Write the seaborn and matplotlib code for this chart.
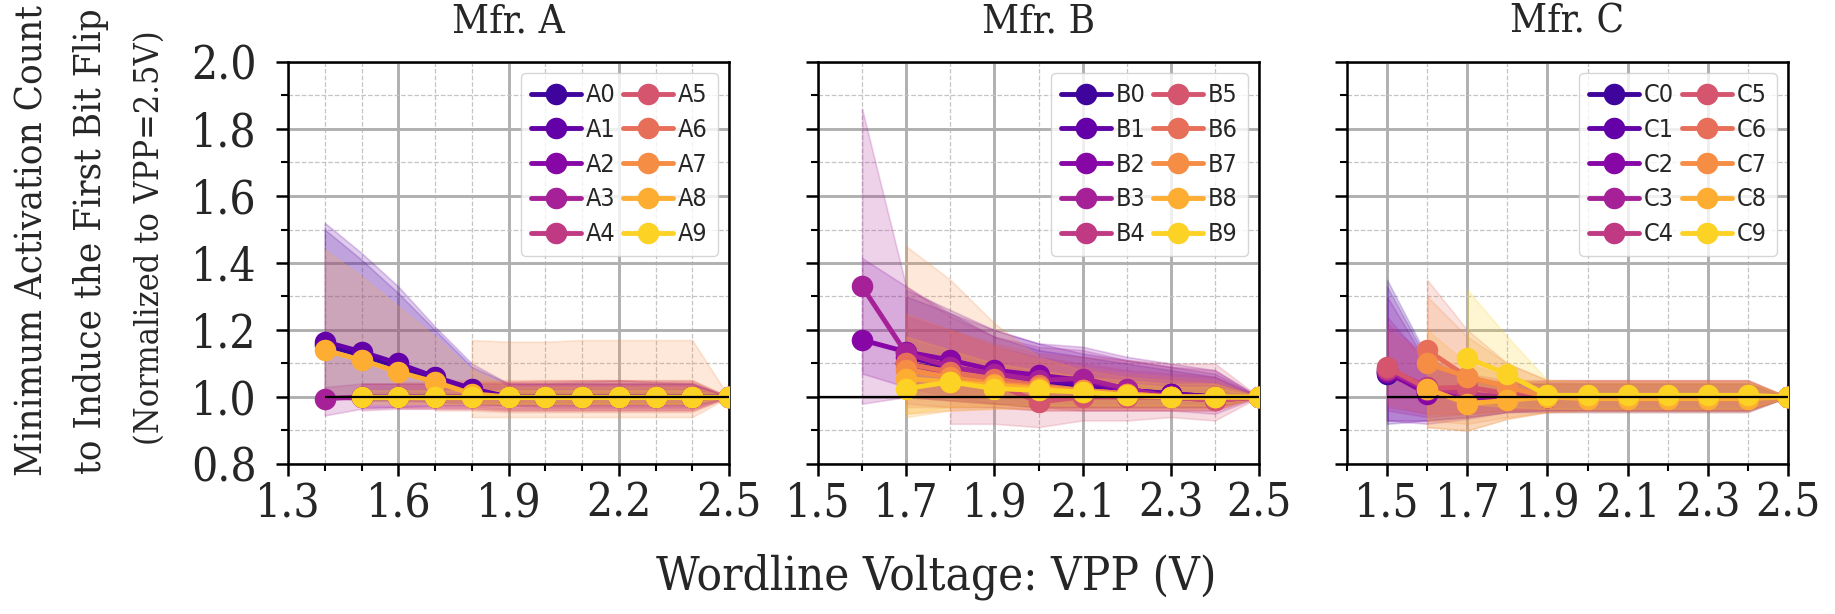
import numpy as np
import pandas as pd
import seaborn as sns
import matplotlib
matplotlib.use("Agg")
import matplotlib.pyplot as plt
from matplotlib.lines import Line2D
from matplotlib.ticker import MultipleLocator, FixedLocator, FormatStrFormatter

sns.set_style("white")
plt.rcParams["font.family"] = ["DejaVu Serif Condensed", "DejaVu Serif"]
plt.rcParams["font.stretch"] = "condensed"

# ---------------- data ----------------
panel_titles = ["Mfr. A", "Mfr. B", "Mfr. C"]
module_prefix = ["A", "B", "C"]
vpp_levels = [1.4, 1.5, 1.6, 1.7, 1.8, 1.9, 2.0, 2.1, 2.2, 2.3, 2.4, 2.5]
x_limits = [(1.3, 2.5), (1.5, 2.5), (1.4, 2.5)]
x_major_ticks = [[1.3, 1.6, 1.9, 2.2, 2.5],
                 [1.5, 1.7, 1.9, 2.1, 2.3, 2.5],
                 [1.5, 1.7, 1.9, 2.1, 2.3, 2.5]]
ref_line_start = [1.4, 1.5, 1.5]
y_limits = (0.8, 2.0)

# Mfr. A (each list ends at VPP=2.5V)
a_mean = [
    [1.155, 1.125, 1.09, 1.05, 1.02, 1.0, 1.0, 1.0, 1.0, 1.0, 1.0, 1.0],
    [1.165, 1.135, 1.10, 1.06, 1.025, 1.0, 1.0, 1.0, 1.0, 1.0, 1.0, 1.0],
    [1.0, 1.0, 1.0, 1.0, 1.0, 1.0, 1.0, 1.0, 1.0, 1.0, 1.0],
    [0.995, 1.0, 1.0, 1.0, 1.0, 1.0, 1.0, 1.0, 1.0, 1.0, 1.0, 1.0],
    [1.0, 1.0, 1.0, 1.0, 1.0, 1.0, 1.0, 1.0, 1.0, 1.0, 1.0],
    [1.0, 1.0, 1.0, 1.0, 1.0, 1.0, 1.0, 1.0, 1.0, 1.0],
    [1.0, 1.0, 1.0, 1.0, 1.0, 1.0, 1.0, 1.0, 1.0],
    [1.0, 1.0, 1.0, 1.0, 1.0, 1.0, 1.0, 1.0],
    [1.14, 1.11, 1.075, 1.045, 1.01, 1.0, 1.0, 1.0, 1.0, 1.0, 1.0, 1.0],
    [1.0, 1.0, 1.0, 1.0, 1.0, 1.0, 1.0, 1.0, 1.0, 1.0, 1.0],
]
a_lo = [
    [1.0, 0.99, 0.99, 0.99, 0.985, 0.98, 0.98, 0.98, 0.98, 0.98, 0.98, 1.0],
    [1.0, 0.99, 0.99, 0.985, 0.98, 0.975, 0.975, 0.975, 0.975, 0.975, 0.975, 1.0],
    [0.97, 0.97, 0.975, 0.975, 0.975, 0.97, 0.97, 0.97, 0.97, 0.97, 1.0],
    [0.945, 0.965, 0.97, 0.97, 0.97, 0.965, 0.965, 0.965, 0.965, 0.965, 0.965, 1.0],
    [0.96, 0.965, 0.965, 0.965, 0.96, 0.96, 0.96, 0.96, 0.96, 0.96, 1.0],
    [0.965, 0.965, 0.965, 0.96, 0.96, 0.96, 0.96, 0.96, 0.96, 1.0],
    [0.96, 0.96, 0.955, 0.955, 0.955, 0.955, 0.955, 0.955, 1.0],
    [0.94, 0.94, 0.94, 0.94, 0.94, 0.94, 0.94, 1.0],
    [1.0, 0.99, 0.99, 0.99, 0.985, 0.98, 0.98, 0.98, 0.98, 0.98, 0.98, 1.0],
    [0.98, 0.98, 0.98, 0.98, 0.98, 0.98, 0.98, 0.98, 0.98, 0.98, 1.0],
]
a_hi = [
    [1.50, 1.41, 1.31, 1.20, 1.09, 1.04, 1.04, 1.04, 1.04, 1.04, 1.04, 1.0],
    [1.52, 1.43, 1.33, 1.21, 1.10, 1.04, 1.04, 1.04, 1.04, 1.04, 1.04, 1.0],
    [1.04, 1.04, 1.04, 1.04, 1.04, 1.04, 1.045, 1.05, 1.045, 1.04, 1.0],
    [1.03, 1.04, 1.04, 1.04, 1.04, 1.04, 1.04, 1.04, 1.04, 1.04, 1.04, 1.0],
    [1.04, 1.04, 1.04, 1.04, 1.045, 1.045, 1.05, 1.05, 1.045, 1.045, 1.0],
    [1.045, 1.045, 1.045, 1.045, 1.05, 1.05, 1.05, 1.05, 1.05, 1.0],
    [1.05, 1.05, 1.05, 1.05, 1.05, 1.05, 1.05, 1.05, 1.0],
    [1.17, 1.165, 1.165, 1.17, 1.17, 1.17, 1.17, 1.0],
    [1.44, 1.36, 1.27, 1.18, 1.08, 1.03, 1.03, 1.03, 1.03, 1.03, 1.03, 1.0],
    [1.02, 1.02, 1.02, 1.02, 1.02, 1.02, 1.02, 1.02, 1.02, 1.02, 1.0],
]

# Mfr. B
b_mean = [
    [1.10, 1.08, 1.06, 1.04, 1.03, 1.02, 1.01, 1.0, 1.0],
    [1.12, 1.09, 1.065, 1.05, 1.04, 1.02, 1.01, 1.0, 1.0],
    [1.17, 1.135, 1.11, 1.08, 1.065, 1.05, 1.02, 1.005, 1.0, 1.0],
    [1.33, 1.13, 1.09, 1.07, 1.05, 1.055, 1.025, 1.0, 0.99, 1.0],
    [1.10, 1.07, 1.05, 1.03, 1.02, 1.01, 1.0, 1.0, 1.0],
    [1.06, 1.04, 0.985, 1.0, 1.0, 1.0, 0.99, 1.0],
    [1.10, 1.075, 1.055, 1.035, 1.02, 1.01, 1.0, 1.0, 1.0],
    [1.08, 1.06, 1.04, 1.03, 1.02, 1.01, 1.0, 1.0, 1.0],
    [1.055, 1.045, 1.035, 1.025, 1.015, 1.005, 1.0, 1.0, 1.0],
    [1.025, 1.045, 1.025, 1.02, 1.015, 1.005, 1.0, 1.0, 1.0],
]
b_lo = [
    [1.0, 0.99, 0.98, 0.97, 0.97, 0.97, 0.97, 0.97, 1.0],
    [1.0, 0.99, 0.98, 0.97, 0.97, 0.97, 0.97, 0.97, 1.0],
    [1.07, 1.03, 1.0, 0.98, 0.97, 0.97, 0.97, 0.97, 0.97, 1.0],
    [0.98, 1.0, 0.99, 0.98, 0.97, 0.96, 0.96, 0.96, 0.95, 1.0],
    [0.98, 0.97, 0.97, 0.96, 0.96, 0.96, 0.96, 0.96, 1.0],
    [0.92, 0.92, 0.91, 0.93, 0.93, 0.94, 0.93, 1.0],
    [0.97, 0.97, 0.97, 0.96, 0.96, 0.96, 0.96, 0.96, 1.0],
    [0.95, 0.96, 0.965, 0.965, 0.965, 0.965, 0.965, 0.965, 1.0],
    [0.94, 0.96, 0.965, 0.97, 0.97, 0.97, 0.97, 0.97, 1.0],
    [0.95, 0.97, 0.975, 0.975, 0.975, 0.975, 0.975, 0.975, 1.0],
]
b_hi = [
    [1.30, 1.25, 1.18, 1.14, 1.12, 1.10, 1.08, 1.06, 1.0],
    [1.32, 1.26, 1.20, 1.16, 1.13, 1.11, 1.09, 1.07, 1.0],
    [1.415, 1.33, 1.25, 1.20, 1.16, 1.15, 1.12, 1.10, 1.08, 1.0],
    [1.86, 1.33, 1.24, 1.18, 1.15, 1.14, 1.11, 1.09, 1.08, 1.0],
    [1.24, 1.20, 1.15, 1.12, 1.10, 1.08, 1.07, 1.06, 1.0],
    [1.20, 1.16, 1.13, 1.12, 1.11, 1.10, 1.10, 1.0],
    [1.25, 1.20, 1.15, 1.11, 1.09, 1.07, 1.06, 1.05, 1.0],
    [1.45, 1.35, 1.22, 1.12, 1.08, 1.06, 1.05, 1.04, 1.0],
    [1.18, 1.14, 1.10, 1.08, 1.06, 1.05, 1.04, 1.04, 1.0],
    [1.12, 1.10, 1.07, 1.06, 1.05, 1.04, 1.03, 1.03, 1.0],
]

# Mfr. C
c_mean = [
    [1.07, 1.02, 1.0, 1.0, 1.0, 1.0, 1.0, 1.0, 1.0, 1.0, 1.0],
    [1.075, 1.015, 1.0, 1.0, 1.0, 1.0, 1.0, 1.0, 1.0, 1.0, 1.0],
    [1.075, 1.01, 1.0, 1.0, 1.0, 1.0, 1.0, 1.0, 1.0, 1.0, 1.0],
    [1.08, 1.02, 1.0, 1.0, 1.0, 1.0, 1.0, 1.0, 1.0, 1.0, 1.0],
    [1.085, 1.03, 1.01, 1.0, 1.0, 1.0, 1.0, 1.0, 1.0, 1.0, 1.0],
    [1.09, 1.025, 1.03, 1.01, 1.0, 1.0, 1.0, 1.0, 1.0, 1.0, 1.0],
    [1.14, 1.06, 1.03, 1.0, 1.0, 1.0, 1.0, 1.0, 1.0, 1.0],
    [1.10, 1.06, 1.03, 1.0, 1.0, 1.0, 1.0, 1.0, 1.0, 1.0],
    [1.025, 0.98, 0.99, 1.0, 0.995, 0.995, 0.995, 0.995, 0.995, 1.0],
    [1.117, 1.068, 1.005, 1.005, 1.005, 1.005, 1.005, 1.005, 1.0],
]
c_lo = [
    [0.92, 0.93, 0.94, 0.955, 0.955, 0.955, 0.955, 0.955, 0.955, 0.955, 1.0],
    [0.93, 0.93, 0.94, 0.955, 0.96, 0.96, 0.96, 0.96, 0.96, 0.96, 1.0],
    [0.93, 0.92, 0.935, 0.955, 0.96, 0.96, 0.96, 0.96, 0.96, 0.96, 1.0],
    [0.96, 0.94, 0.95, 0.96, 0.96, 0.96, 0.96, 0.96, 0.96, 0.96, 1.0],
    [0.97, 0.95, 0.95, 0.96, 0.965, 0.965, 0.965, 0.965, 0.965, 0.965, 1.0],
    [0.98, 0.95, 0.95, 0.96, 0.965, 0.965, 0.965, 0.965, 0.965, 0.965, 1.0],
    [0.91, 0.90, 0.935, 0.955, 0.96, 0.96, 0.96, 0.96, 0.96, 1.0],
    [0.93, 0.92, 0.94, 0.955, 0.96, 0.96, 0.96, 0.96, 0.96, 1.0],
    [0.91, 0.90, 0.935, 0.955, 0.955, 0.955, 0.955, 0.955, 0.955, 1.0],
    [0.98, 0.97, 0.965, 0.965, 0.965, 0.965, 0.965, 0.965, 1.0],
]
c_hi = [
    [1.35, 1.12, 1.05, 1.04, 1.04, 1.04, 1.04, 1.04, 1.04, 1.04, 1.0],
    [1.33, 1.11, 1.05, 1.04, 1.04, 1.04, 1.04, 1.04, 1.04, 1.04, 1.0],
    [1.30, 1.10, 1.05, 1.04, 1.04, 1.04, 1.04, 1.04, 1.04, 1.04, 1.0],
    [1.24, 1.10, 1.05, 1.045, 1.045, 1.045, 1.045, 1.045, 1.045, 1.045, 1.0],
    [1.22, 1.12, 1.06, 1.045, 1.05, 1.05, 1.05, 1.05, 1.05, 1.05, 1.0],
    [1.20, 1.12, 1.07, 1.05, 1.05, 1.05, 1.05, 1.05, 1.05, 1.05, 1.0],
    [1.35, 1.20, 1.10, 1.05, 1.05, 1.05, 1.05, 1.05, 1.05, 1.0],
    [1.30, 1.18, 1.10, 1.05, 1.05, 1.05, 1.05, 1.05, 1.05, 1.0],
    [1.20, 1.10, 1.06, 1.04, 1.04, 1.04, 1.04, 1.04, 1.04, 1.0],
    [1.32, 1.18, 1.05, 1.045, 1.045, 1.045, 1.045, 1.045, 1.0],
]

panel_means = [a_mean, b_mean, c_mean]
panel_los = [a_lo, b_lo, c_lo]
panel_his = [a_hi, b_hi, c_hi]

ylabel_lines = ["Minimum Activation Count", "to Induce the First Bit Flip"]
ylabel_note = "(Normalized to VPP=2.5V)"
xlabel_text = "Wordline Voltage: VPP (V)"

# ---------------- figure ----------------
W, H = 1835, 614
fig = plt.figure(figsize=(W / 100, H / 100), dpi=100)
palette = sns.color_palette("plasma", 10)

ax_lefts = [288, 818, 1347]
ax_w, ax_top, ax_bot = 441, 62, 464

TICK_FS = 33
MS = 15.5
LW = 3.5
for p in range(3):
    ax = fig.add_axes([ax_lefts[p] / W, 1 - ax_bot / H, ax_w / W, (ax_bot - ax_top) / H])
    names = [f"{module_prefix[p]}{i}" for i in range(10)]
    rows = []
    for i, name in enumerate(names):
        mean = panel_means[p][i]
        lo = panel_los[p][i]
        hi = panel_his[p][i]
        xs = vpp_levels[-len(mean):]
        ax.fill_between(xs, lo, hi, color=palette[i], alpha=0.2, linewidth=1.2, zorder=1)
        for x, m in zip(xs, mean):
            rows.append({"vpp": x, "ratio": m, "module": name})
    df = pd.DataFrame(rows)
    sns.lineplot(data=df, x="vpp", y="ratio", hue="module", hue_order=names,
                 palette=palette, marker="o", markersize=MS, markeredgewidth=0,
                 linewidth=LW, legend=False, errorbar=None, ax=ax, zorder=3)
    ax.hlines(1.0, ref_line_start[p], 2.5, color="black", linewidth=1.6, zorder=6)

    ax.set_xlim(*x_limits[p])
    ax.set_ylim(*y_limits)
    ax.xaxis.set_major_locator(FixedLocator(x_major_ticks[p]))
    ax.xaxis.set_minor_locator(MultipleLocator(0.1))
    ax.yaxis.set_major_locator(MultipleLocator(0.2))
    ax.yaxis.set_minor_locator(MultipleLocator(0.1))
    ax.xaxis.set_major_formatter(FormatStrFormatter("%.1f"))
    ax.yaxis.set_major_formatter(FormatStrFormatter("%.1f"))
    ax.set_xlabel("")
    ax.set_ylabel("")
    ax.set_axisbelow(True)
    ax.grid(True, which="major", color="#b0b0b0", linewidth=2.1, linestyle="-")
    ax.grid(True, which="minor", color="#c4c4c4", linewidth=0.9, linestyle="--")
    for s in ax.spines.values():
        s.set_color("black")
        s.set_linewidth(1.8)
        s.set_visible(True)
    ax.tick_params(axis="both", which="major", direction="out", length=8.5, width=1.8,
                   color="black", labelsize=TICK_FS, bottom=True, left=True)
    ax.tick_params(axis="both", which="minor", direction="out", length=5, width=1.5,
                   color="black", bottom=True, left=True)
    ax.tick_params(axis="y", which="major", pad=14)
    ax.tick_params(axis="x", which="major", pad=4)
    if p > 0:
        ax.tick_params(axis="y", labelleft=False)
    ax.set_title(panel_titles[p], fontsize=29, pad=21)

    handles = [Line2D([], [], color=palette[i], marker="o", markersize=MS,
                      markeredgewidth=0, linewidth=LW) for i in range(10)]
    ax.legend(handles, names, loc="upper right", ncol=2,
              prop={"family": "DejaVu Sans", "size": 18},
              handlelength=2.0, handletextpad=0.2, columnspacing=0.3,
              labelspacing=0.43, borderpad=0.4, borderaxespad=0.45,
              framealpha=0.8, edgecolor="#cccccc", fancybox=True)

fig.text(33 / W, 1 - 241 / H, ylabel_lines[0], rotation=90, ha="center", va="center", fontsize=27.5)
fig.text(91 / W, 1 - 241 / H, ylabel_lines[1], rotation=90, ha="center", va="center", fontsize=27.5)
fig.text(150 / W, 1 - 238 / H, ylabel_note, rotation=90, ha="center", va="center", fontsize=24.5)
fig.text(936 / W, 1 - 577 / H, xlabel_text, ha="center", va="center", fontsize=34)

fig.savefig("out.png", dpi=100)
